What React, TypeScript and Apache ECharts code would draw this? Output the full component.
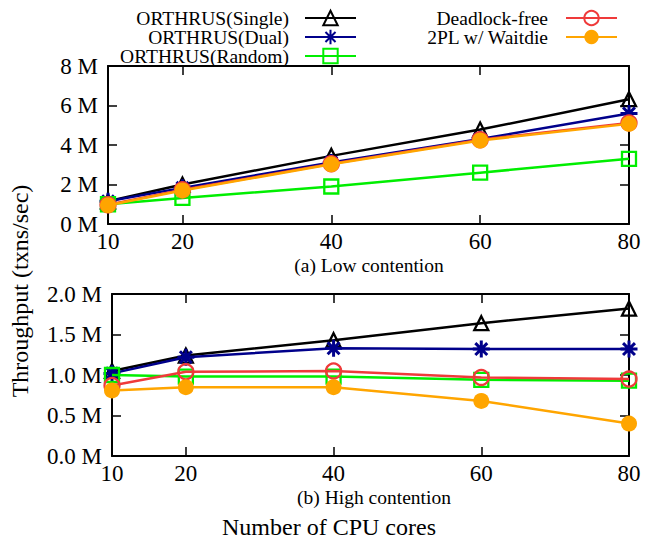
import { useEffect, useRef } from 'react';
import * as echarts from 'echarts';

const cores = [10, 20, 40, 60, 80];
const seriesNames = ['ORTHRUS(Single)', 'ORTHRUS(Dual)', 'ORTHRUS(Random)', 'Deadlock-free', '2PL w/ Waitdie'];
const lowSingle = [1.15, 2.0, 3.45, 4.78, 6.32];
const lowDual = [1.15, 1.83, 3.12, 4.3, 5.6];
const lowRandom = [1.0, 1.32, 1.9, 2.6, 3.3];
const lowDeadlockFree = [0.97, 1.73, 3.05, 4.27, 5.12];
const low2PL = [0.95, 1.7, 3.02, 4.23, 5.07];
const highSingle = [1.05, 1.24, 1.43, 1.64, 1.82];
const highDual = [1.02, 1.22, 1.33, 1.32, 1.32];
const highRandom = [1.0, 0.98, 0.98, 0.94, 0.93];
const highDeadlockFree = [0.87, 1.04, 1.05, 0.97, 0.95];
const high2PL = [0.81, 0.85, 0.85, 0.68, 0.4];
const xTickValues = [10, 20, 40, 60, 80];
const xInnerTicks = [20, 40, 60];
const lowYTicks = [0, 2, 4, 6, 8];
const highYTicks = [0, 0.5, 1, 1.5, 2];
const subtitles = ['(a) Low contention', '(b) High contention'];
const xTitle = 'Number of CPU cores';
const yTitle = 'Throughput (txns/sec)';

const FONT = '"Liberation Serif", "Times New Roman", serif';
const ASTERISK = 'path://M10,0L10,20M0,10L20,10M3,3L17,17M3,17L17,3';

const styles = [
  { color: '#000000', symbol: 'triangle', size: 14, hollow: true, width: 2.5, border: 2.3 },
  { color: '#00008b', symbol: ASTERISK, size: 17, hollow: true, width: 2.5, border: 3 },
  { color: '#00ee00', symbol: 'rect', size: 14, hollow: true, width: 2.5, border: 2.3 },
  { color: '#ef3a3a', symbol: 'circle', size: 15, hollow: true, width: 2.5, border: 2.3 },
  { color: '#ffa500', symbol: 'circle', size: 16, hollow: false, width: 2.5, border: 0 },
];

function makeSeries(name: string, idx: number, values: number[], axisIdx: number) {
  const s = styles[idx];
  return {
    type: 'line',
    name,
    xAxisIndex: axisIdx,
    yAxisIndex: axisIdx,
    data: cores.map((c, i) => [c, values[i]]),
    symbol: s.symbol,
    symbolSize: s.size,
    lineStyle: { color: s.color, width: s.width },
    itemStyle: s.hollow
      ? { color: 'rgba(0,0,0,0)', borderColor: s.color, borderWidth: s.border }
      : { color: s.color, borderWidth: 0 },
    z: 2 + idx,
  };
}

function xAxes(gridIndex: number) {
  const common = {
    type: 'value',
    gridIndex,
    min: 10,
    max: 80,
    splitLine: { show: false },
    axisLine: { show: true, onZero: false, lineStyle: { color: '#000', width: 2 } },
    axisTick: { show: true, inside: true, length: 9, customValues: xInnerTicks, lineStyle: { color: '#000', width: 1.5 } },
  };
  return [
    {
      ...common,
      position: 'bottom',
      axisLabel: {
        show: true,
        customValues: xTickValues,
        fontFamily: FONT,
        fontSize: 23,
        color: '#000',
        margin: 6,
      },
    },
    { ...common, position: 'top', axisLabel: { show: false } },
  ];
}

function yAxes(gridIndex: number, ticks: number[], decimals: number) {
  const common = {
    type: 'value',
    gridIndex,
    min: ticks[0],
    max: ticks[ticks.length - 1],
    interval: ticks[1] - ticks[0],
    splitLine: { show: false },
    axisLine: { show: true, onZero: false, lineStyle: { color: '#000', width: 2 } },
    axisTick: { show: true, inside: true, length: 9, lineStyle: { color: '#000', width: 1.5 } },
  };
  return [
    {
      ...common,
      position: 'left',
      axisLabel: {
        show: true,
        fontFamily: FONT,
        fontSize: 23,
        color: '#000',
        margin: 10,
        formatter: (v: number) => v.toFixed(decimals) + ' M',
      },
    },
    { ...common, position: 'right', axisLabel: { show: false } },
  ];
}

function legendItem(name: string, right: number, top: number, gap: number) {
  return {
    data: [name],
    right,
    top,
    orient: 'horizontal',
    align: 'right',
    padding: 0,
    itemWidth: 51,
    itemHeight: 18,
    selectedMode: false,
    textStyle: { fontFamily: FONT, fontSize: 19.5, color: '#000', padding: [0, gap, 0, 0] },
  };
}

export default function App() {
  const ref = useRef<HTMLDivElement>(null);
  useEffect(() => {
    if (!ref.current) return;
    const chart = echarts.init(ref.current, undefined, { renderer: 'svg' });
    const lowData = [lowSingle, lowDual, lowRandom, lowDeadlockFree, low2PL];
    const highData = [highSingle, highDual, highRandom, highDeadlockFree, high2PL];
    const series: any[] = [];
    lowData.forEach((v, i) => series.push(makeSeries(seriesNames[i], i, v, 0)));
    highData.forEach((v, i) => series.push(makeSeries(seriesNames[i], i, v, 2)));
    const option: any = {
      animation: false,
      backgroundColor: '#fff',
      grid: [
        { left: 108, top: 66, width: 521, height: 158 },
        { left: 112, top: 294, width: 517, height: 162 },
      ],
      xAxis: [...xAxes(0), ...xAxes(1)],
      yAxis: [...yAxes(0, lowYTicks, 0), ...yAxes(1, highYTicks, 1)],
      legend: [
        legendItem(seriesNames[0], 290, 8, 11),
        legendItem(seriesNames[1], 290, 27, 11),
        legendItem(seriesNames[2], 290, 46, 11),
        legendItem(seriesNames[3], 29, 8, 13),
        legendItem(seriesNames[4], 29, 27, 13),
      ],
      graphic: [
        {
          type: 'text',
          x: 369,
          y: 265,
          style: { text: subtitles[0], font: `19.5px ${FONT}`, fill: '#000', align: 'center', verticalAlign: 'middle' },
        },
        {
          type: 'text',
          x: 374,
          y: 497,
          style: { text: subtitles[1], font: `19.5px ${FONT}`, fill: '#000', align: 'center', verticalAlign: 'middle' },
        },
        {
          type: 'text',
          x: 329,
          y: 527,
          style: { text: xTitle, font: `24px ${FONT}`, fill: '#000', align: 'center', verticalAlign: 'middle' },
        },
        {
          type: 'text',
          x: 20,
          y: 291,
          rotation: Math.PI / 2,
          style: { text: yTitle, font: `24px ${FONT}`, fill: '#000', align: 'center', verticalAlign: 'middle' },
        },
      ],
      series,
    };
    chart.setOption(option);
    return () => chart.dispose();
  }, []);
  return <div ref={ref} style={{ position: 'absolute', left: 0, top: 0, width: 647, height: 542 }} />;
}
